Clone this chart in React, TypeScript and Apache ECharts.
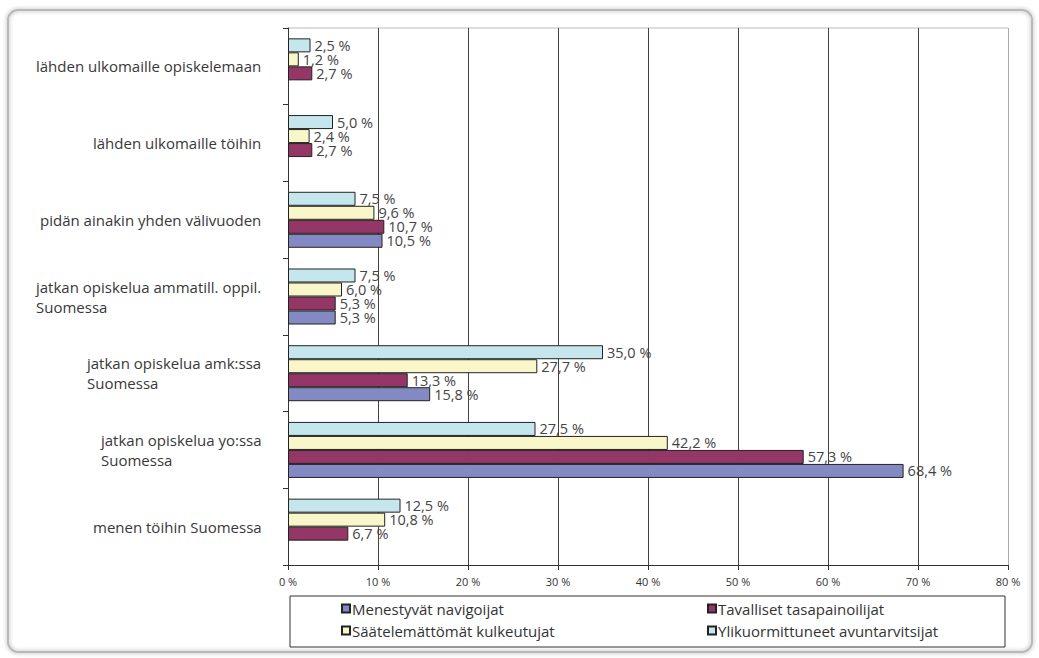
import React, { useEffect, useRef } from "react";
import * as echarts from "echarts";

// categories listed bottom-to-top (ECharts category y-axis starts at the bottom)
const categories = [
  "menen töihin Suomessa",
  "jatkan opiskelua yo:ssa\nSuomessa",
  "jatkan opiskelua amk:ssa\nSuomessa",
  "jatkan opiskelua ammatill. oppil.\nSuomessa",
  "pidän ainakin yhden välivuoden",
  "lähden ulkomaille töihin",
  "lähden ulkomaille opiskelemaan",
];
const seriesNames = [
  "Menestyvät navigoijat",
  "Tavalliset tasapainoilijat",
  "Säätelemättömät kulkeutujat",
  "Ylikuormittuneet avuntarvitsijat",
];
const menestyvat = [null, 68.4, 15.8, 5.3, 10.5, null, null];
const tavalliset = [6.7, 57.3, 13.3, 5.3, 10.7, 2.7, 2.7];
const saatelemattomat = [10.8, 42.2, 27.7, 6.0, 9.6, 2.4, 1.2];
const ylikuormittuneet = [12.5, 27.5, 35.0, 7.5, 7.5, 5.0, 2.5];
const seriesColors = ["#8389c3", "#943666", "#f9f7c9", "#c5e6ed"];
const xMin = 0;
const xMax = 80;
const xInterval = 10;

const LABEL_FONT = "'Open Sans', 'Noto Sans', sans-serif";
const LABEL_SIZE = 15;

export default function App() {
  const ref = useRef<HTMLDivElement>(null);
  useEffect(() => {
    if (!ref.current) return;
    const chart = echarts.init(ref.current, undefined, { renderer: "svg" });

    // measure category label lines to build left-aligned blocks
    const canvas = document.createElement("canvas");
    const ctx = canvas.getContext("2d")!;
    ctx.font = `${LABEL_SIZE}px ${LABEL_FONT}`;
    const rich: Record<string, any> = {};
    categories.forEach((c, i) => {
      const w = Math.max(...c.split("\n").map((l) => ctx.measureText(l).width));
      rich["c" + i] = {
        width: Math.ceil(w) + 1,
        align: "left",
        fontSize: LABEL_SIZE,
        fontFamily: LABEL_FONT,
        color: "#383838",
        lineHeight: 20,
      };
    });

    const allData = [menestyvat, tavalliset, saatelemattomat, ylikuormittuneet];
    const fmt = (v: number) => v.toFixed(1).replace(".", ",") + " %";

    const legendPos = [
      { left: 341, top: 601 },
      { left: 707, top: 601 },
      { left: 341, top: 623 },
      { left: 707, top: 623 },
    ];

    // ECharts draws the first series at the top of each horizontal group,
    // so series are added in reverse order (cyan on top, blue at the bottom).
    const order = [3, 2, 1, 0];

    chart.setOption({
      animation: false,
      backgroundColor: "#fff",
      grid: { left: 288, top: 28, width: 720, height: 537, containLabel: false },
      xAxis: {
        type: "value",
        min: xMin,
        max: xMax,
        interval: xInterval,
        axisLine: { show: true, lineStyle: { color: "#333", width: 1 } },
        axisTick: { show: true, length: 5, lineStyle: { color: "#333" } },
        axisLabel: {
          formatter: (v: number) => v + " %",
          color: "#333",
          fontSize: 11,
          fontFamily: LABEL_FONT,
          margin: 11,
        },
        splitLine: {
          show: true,
          lineStyle: {
            color: ["#444", "#444", "#444", "#444", "#444", "#444", "#444", "#444", "#aaa"],
            width: 1,
          },
        },
      },
      yAxis: {
        type: "category",
        data: categories,
        axisLine: { show: true, lineStyle: { color: "#333", width: 1 } },
        axisTick: { show: true, length: 5, lineStyle: { color: "#333" } },
        axisLabel: {
          margin: 25,
          align: "right",
          formatter: (v: string) => {
            const i = categories.indexOf(v);
            return v
              .split("\n")
              .map((l) => `{c${i}|${l}}`)
              .join("\n");
          },
          rich,
        },
      },
      legend: seriesNames.map((n, i) => ({
        data: [n],
        left: legendPos[i].left,
        top: legendPos[i].top,
        padding: 0,
        itemWidth: 8,
        itemHeight: 8,
        icon: "rect",
        textStyle: { color: "#333", fontSize: 15, fontFamily: LABEL_FONT, padding: [0, 0, 0, -3] },
      })),
      series: order.map((i) => ({
        name: seriesNames[i],
        type: "bar",
        data: allData[i],
        barGap: "0%",
        barCategoryGap: "27%",
        itemStyle: { color: seriesColors[i], borderColor: "#222", borderWidth: 1 },
        label: {
          show: true,
          position: "right",
          distance: 4,
          color: "#444",
          fontSize: 14.5,
          fontFamily: LABEL_FONT,
          formatter: (p: any) => (p.value == null ? "" : fmt(p.value)),
        },
      })),
      graphic: [
        {
          type: "rect",
          shape: { x: 8, y: 10, width: 1024, height: 642, r: 10 },
          style: {
            fill: "none",
            stroke: "#b8b8b8",
            lineWidth: 2,
            shadowBlur: 4,
            shadowColor: "rgba(0,0,0,0.35)",
          },
          z: -1,
          silent: true,
        },
        {
          type: "rect",
          shape: { x: 290, y: 596, width: 715, height: 51 },
          style: { fill: "none", stroke: "#333", lineWidth: 1 },
          silent: true,
        },
        {
          type: "line",
          shape: { x1: 288, y1: 28, x2: 1008, y2: 28 },
          style: { stroke: "#bbb", lineWidth: 1 },
          silent: true,
        },
      ],
    });
    return () => chart.dispose();
  }, []);
  return (
    <div
      ref={ref}
      style={{ position: "absolute", left: 0, top: 0, width: 1039, height: 658 }}
    />
  );
}
